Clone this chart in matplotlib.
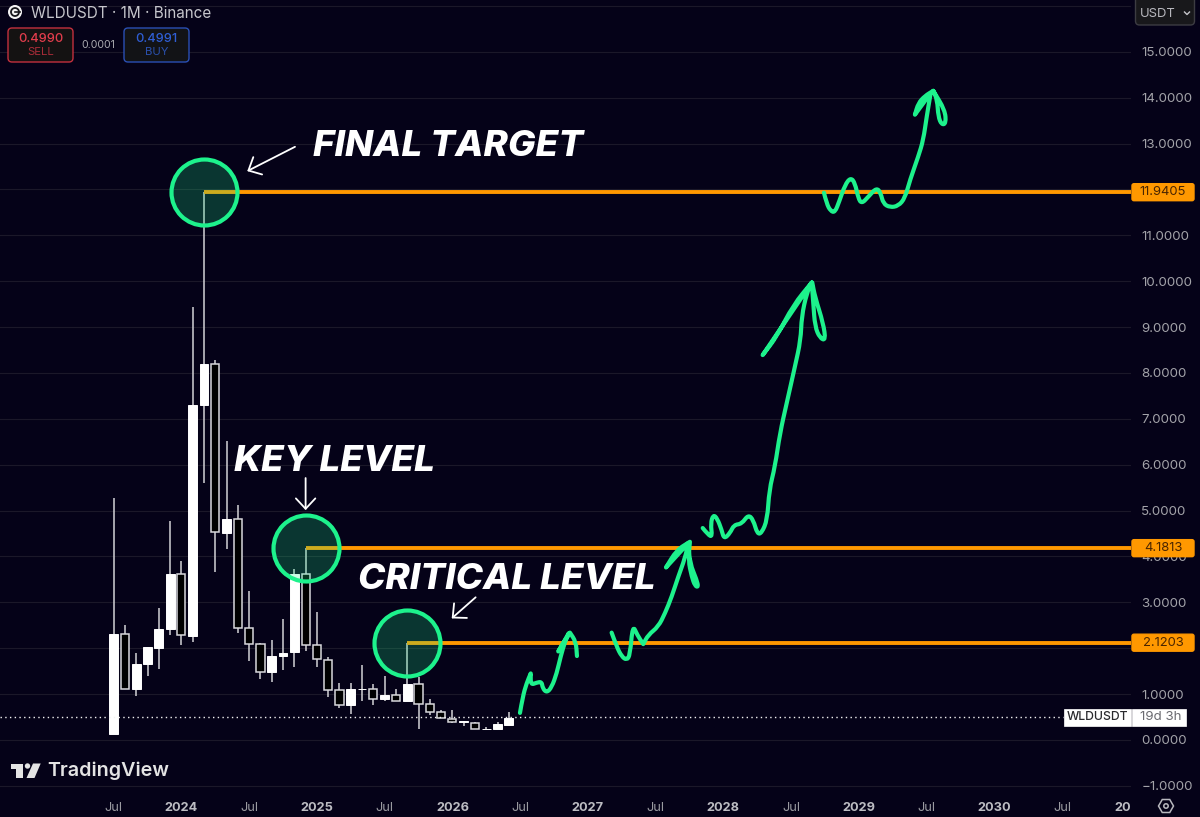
import numpy as np
import matplotlib
matplotlib.use('Agg')
import matplotlib.pyplot as plt
from matplotlib.patches import Rectangle, FancyBboxPatch, Circle, Polygon, RegularPolygon, PathPatch
from matplotlib.path import Path

plt.rcParams['font.family'] = ['Inter', 'DejaVu Sans']

# --
# data: monthly candles, first one is Jul 2023

opens = [0.13, 2.30, 1.11, 1.65, 2.01, 2.41, 3.61, 2.27, 7.30, 8.20, 4.51, 4.82,
         2.45, 2.09, 1.48, 1.84, 1.91, 3.61, 2.07, 1.74, 1.08, 0.76, 1.11, 1.12,
         0.89, 0.98, 0.86, 1.22, 0.78, 0.60, 0.45, 0.39, 0.38, 0.23, 0.23, 0.33]
highs = [5.27, 2.51, 1.89, 2.02, 2.87, 4.77, 3.91, 9.43, 11.94, 8.28, 6.52, 5.12,
         3.25, 2.12, 2.18, 2.64, 3.72, 4.18, 2.79, 1.80, 1.24, 1.24, 1.64, 1.22,
         1.40, 1.11, 2.12, 1.38, 0.89, 0.65, 0.65, 0.41, 0.40, 0.28, 0.39, 0.61]
lows = [0.13, 1.11, 0.96, 1.40, 1.54, 2.29, 2.06, 2.14, 5.60, 3.67, 4.16, 2.33,
        1.73, 1.33, 1.27, 1.53, 1.58, 1.93, 1.60, 0.94, 0.69, 0.57, 0.84, 0.76,
        0.84, 0.86, 0.86, 0.25, 0.55, 0.47, 0.36, 0.31, 0.25, 0.23, 0.23, 0.33]
closes = [2.30, 1.11, 1.66, 2.02, 2.41, 3.61, 2.28, 7.31, 8.20, 4.53, 4.82, 2.45,
          2.09, 1.48, 1.84, 1.90, 3.61, 2.08, 1.76, 1.10, 0.76, 1.11, 1.12, 0.89,
          0.98, 0.86, 1.22, 0.79, 0.60, 0.47, 0.39, 0.41, 0.25, 0.25, 0.34, 0.48]

levels = [11.9405, 4.1813, 2.1203]
level_start = [8, 17, 26]
last_price = 0.4990

tick_months = list(range(0, 91, 6))
tick_names = ['Jul', '2024', 'Jul', '2025', 'Jul', '2026', 'Jul', '2027', 'Jul', '2028',
              'Jul', '2029', 'Jul', '2030', 'Jul', '2031']
price_ticks = list(range(-1, 16))
hidden_price_ticks = [2, 12]  # sit behind the orange level tags

# hand drawn green strokes (month, price), read at 11.33 px per month
# a repeated point keeps a sharp corner when the stroke gets smoothed
stroke_a_x = [35.86, 36.10, 36.45, 36.81, 36.81, 36.81, 37.33, 37.78, 37.86, 38.22, 38.66, 39.10, 39.45,
              39.83, 40.18, 40.18, 39.24, 39.24, 40.27, 40.27, 40.80, 40.89]
stroke_a_y = [0.59, 0.94, 1.24, 1.45, 1.45, 1.20, 1.25, 1.27, 1.13, 1.03, 1.15, 1.45, 1.82,
              2.14, 2.33, 2.33, 1.93, 1.93, 2.34, 2.34, 2.14, 1.83]
stroke_b_x = [43.95, 44.40, 44.84, 45.28, 45.57, 45.81, 46.21, 46.74, 46.74, 47.18, 48.07, 48.66, 49.25,
              49.83, 50.42, 50.72, 50.72, 48.75, 48.75, 49.69, 50.86, 50.86, 50.72, 51.02, 51.31, 51.60, 51.46,
              50.86, 50.72]
stroke_b_y = [2.34, 2.03, 1.82, 1.74, 1.85, 2.51, 2.29, 2.09, 2.09, 2.29, 2.47, 2.76, 3.12,
              3.56, 3.96, 4.29, 4.29, 3.76, 3.76, 4.14, 4.32, 4.32, 3.92, 3.56, 3.36, 3.33, 3.49,
              3.85, 4.29]
stroke_c_x = [51.99, 52.48, 52.83, 52.69, 52.92, 53.27, 53.66, 53.87, 54.40, 54.75, 55.43, 56.01,
              56.45, 56.81, 57.19, 57.69, 57.86, 58.37, 58.81, 59.40, 60.13, 60.64, 60.72, 61.17,
              61.61, 61.61, 57.28, 57.28, 58.52, 59.98, 61.61, 61.61, 61.75, 61.90, 62.34, 62.84, 62.63,
              61.90, 61.66]
stroke_c_y = [4.62, 4.47, 4.43, 4.72, 4.91, 4.83, 4.58, 4.38, 4.51, 4.69, 4.71, 4.91,
              4.80, 4.49, 4.51, 4.80, 5.45, 5.96, 6.69, 7.34, 8.14, 8.72, 9.23, 9.74,
              9.97, 9.97, 8.39, 8.39, 8.79, 9.48, 9.97, 9.97, 9.52, 9.01, 8.76, 8.71, 9.08,
              9.66, 9.97]
stroke_d_x = [62.69, 62.93, 63.28, 63.66, 64.04, 64.55, 65.05, 65.43, 65.72, 66.02, 66.60, 67.34,
              67.70, 67.93, 68.52, 69.25, 69.84, 70.29, 71.02, 71.46, 71.76, 72.11, 72.11, 70.72, 70.72, 71.02,
              71.61, 72.34, 72.34, 72.69, 72.78, 73.08, 73.46, 73.37, 72.34]
stroke_d_y = [11.93, 11.69, 11.53, 11.50, 11.74, 12.10, 12.26, 12.14, 11.81, 11.69, 11.84, 12.04,
              11.92, 11.69, 11.61, 11.64, 11.81, 12.21, 12.72, 13.08, 13.59, 14.10, 14.10, 13.63, 13.63, 13.88,
              14.04, 14.15, 14.15, 13.95, 13.59, 13.41, 13.44, 13.73, 14.15]

BG = '#050218'
GRID = '#1b1829'
GREEN = '#1df28c'
ORANGE = '#ff9800'
WICK = '#d2d2d6'


# --
# figure and price axes

fig = plt.figure(figsize=(12, 8.17), dpi=100, facecolor=BG)
ax = fig.add_axes([0, (817 - 792) / 817, 1131 / 1200, 792 / 817], facecolor=BG)
ax.set_xlim(-10.07, 90.11)
ax.set_ylim(-1.134, 16.13)
for s in ax.spines.values():
    s.set_visible(False)

ax.yaxis.tick_right()
ax.set_yticks(price_ticks)
ax.set_yticklabels(['' if p in hidden_price_ticks else f'{p:.4f}'.replace('-', '\u2212') for p in price_ticks],
                   color='#a3a3a9', fontsize=9.6)
ax.tick_params(axis='y', length=0, pad=7.5)
ax.set_xticks(tick_months)
ax.set_xticklabels(tick_names, color='#9a9aa0', fontsize=9.2)
ax.tick_params(axis='x', length=0, pad=7)
for lab in ax.get_xticklabels():
    if lab.get_text() != 'Jul':
        lab.set_fontweight('bold')
        lab.set_color('#bcbcc2')
ax.grid(axis='y', color=GRID, lw=0.8, zorder=0)
ax.axhline(16, color=GRID, lw=0.8, zorder=0)


# --
# candles

idx = np.arange(len(opens))
opens, closes = np.array(opens), np.array(closes)
up = closes >= opens
ax.vlines(idx, lows, highs, color=WICK, lw=1.1, zorder=2)
ax.bar(idx[up], (closes - opens)[up], bottom=opens[up], width=0.78,
       color='white', edgecolor='white', lw=0.7, zorder=3)
ax.bar(idx[~up], (opens - closes)[~up], bottom=closes[~up], width=0.72,
       color='black', edgecolor='#d8d8dc', lw=1.1, zorder=3)
ax.axhline(last_price, xmax=1063 / 1131, color='#f2f2f2', lw=1.0, ls=(0, (1, 2.4)), zorder=4)


# --
# levels, circles, arrows, labels

for lev, start in zip(levels, level_start):
    ax.hlines(lev, start, 90.11, color=ORANGE, lw=2.8, zorder=5)
ax.scatter(level_start, levels, s=2257, facecolor=(0.11, 0.95, 0.55, 0.22), edgecolor=GREEN,
           lw=3.0, zorder=6)


def smooth_stroke(xs, ys):
    # quadratic curves through the midpoints, the pen wobble is not a polyline
    pts = np.column_stack([np.array(xs) * 11.33 / 11.29, ys])
    verts, codes = [pts[0]], [Path.MOVETO]
    for i in range(1, len(pts) - 1):
        verts += [pts[i], (pts[i] + pts[i + 1]) / 2]
        codes += [Path.CURVE3, Path.CURVE3]
    verts.append(pts[-1])
    codes.append(Path.LINETO)
    return Path(verts, codes)


for xs, ys in [(stroke_a_x, stroke_a_y), (stroke_b_x, stroke_b_y),
               (stroke_c_x, stroke_c_y), (stroke_d_x, stroke_d_y)]:
    ax.add_patch(PathPatch(smooth_stroke(xs, ys), fc='none', ec=GREEN, lw=3.0, capstyle='round',
                           joinstyle='round', zorder=7))

arrows = [((16.06, 12.93), (11.83, 12.40)), ((17.0, 5.71), (17.0, 5.01)), ((32.06, 3.11), (29.94, 2.65))]
for start, tip in arrows:
    ax.annotate('', xy=tip, xytext=start, zorder=7,
                arrowprops=dict(arrowstyle='->,head_length=0.75,head_width=0.7', color='white',
                                lw=1.3, shrinkA=0, shrinkB=0))

labels = [('FINAL TARGET', 17.65, 12.94), ('KEY LEVEL', 10.66, 6.06), ('CRITICAL LEVEL', 21.64, 3.50)]
for txt, x, y in labels:
    ax.text(x, y, txt, color='white', fontsize=26.5, fontweight=800, fontstyle='italic',
            va='center', ha='left', zorder=8)


# --
# chart furniture, overlay in pixels

ui = fig.add_axes([0, 0, 1, 1], facecolor='none', zorder=5)
ui.set_xlim(0, 1200)
ui.set_ylim(817, 0)
ui.axis('off')


def price_y(v):
    return 817 - ax.transData.transform((0, v))[1]


def round_box(x0, y0, x1, y1, face, edge, rad=4):
    ui.add_patch(FancyBboxPatch((x0 + rad, y0 + rad), x1 - x0 - 2 * rad, y1 - y0 - 2 * rad,
                                boxstyle=f'round,pad={rad},rounding_size={rad}', fc=face, ec=edge, lw=1.0))


ui.add_patch(Rectangle((1131, 795), 69, 22, fc=BG, ec='none'))

for lev in levels:
    y = price_y(lev)
    round_box(1132, y - 8.5, 1194, y + 8.5, ORANGE, ORANGE, rad=2)
    ui.text(1163, y, f'{lev:.4f}', color='#4a2500', fontsize=9.4, ha='center', va='center')

y = price_y(last_price)
ui.add_patch(Rectangle((1063.5, y - 8.5), 67, 17, fc='white', ec='white', lw=0.5))
ui.add_patch(Rectangle((1132, y - 8.5), 54, 17, fc='white', ec='white', lw=0.5))
ui.text(1097, y, 'WLDUSDT', color='#2a2a2e', fontsize=8.8, fontweight='medium', ha='center', va='center')
ui.text(1161, y, '19d 3h', color='#6a6a70', fontsize=9.6, ha='center', va='center')

# header
ui.add_patch(Circle((15, 12), 7, fc='#f4f4f4', ec='none'))
ui.add_patch(Circle((15, 12), 4, fc='none', ec='#17171c', lw=1.3))
ui.plot([15, 19.5], [12, 12], color='#17171c', lw=1.2)
ui.text(31, 13, 'WLDUSDT \u00b7 1M \u00b7 Binance', color='#c6c6cc', fontsize=11, ha='left', va='center')

round_box(8, 28, 73, 62, '#141212', '#c2303e')
ui.text(40.5, 38.5, '0.4990', color='#e23d4c', fontsize=9.2, fontweight='medium', ha='center', va='center')
ui.text(40.5, 52, 'SELL', color='#a82c38', fontsize=8.2, ha='center', va='center')
ui.text(98, 45, '0.0001', color='#ababb0', fontsize=7.6, ha='center', va='center')
round_box(124, 28, 189, 62, '#121316', '#2a4fb4')
ui.text(156.5, 38.5, '0.4991', color='#2f5ed4', fontsize=9.2, fontweight='medium', ha='center', va='center')
ui.text(156.5, 52, 'BUY', color='#2a50ac', fontsize=8.2, ha='center', va='center')

# currency button
round_box(1135.5, -6, 1194.5, 25, '#18181b', '#3c3c42')
ui.text(1139.5, 13.5, 'USDT', color='#b8b8be', fontsize=9.4, ha='left', va='center')
ui.plot([1184.5, 1187, 1189.5], [12, 14.5, 12], color='#c4c4ca', lw=1.0)

# tradingview mark
ui.add_patch(Polygon([(11, 763.5), (22.5, 763.5), (22.5, 778), (16, 778), (16, 768.5), (11, 768.5)],
                     fc='#e4e4e4', ec='none'))
ui.add_patch(Circle((27.5, 766), 2.7, fc='#e4e4e4', ec='none'))
ui.add_patch(Polygon([(33, 763.5), (40.7, 763.5), (34.5, 778), (26.5, 778)], fc='#e4e4e4', ec='none'))
ui.text(47.5, 771, 'TradingView', color='#e4e4e4', fontsize=14.2, fontweight='semibold', ha='left', va='center')

# settings hexagon
ui.add_patch(RegularPolygon((1166, 806), 6, radius=7.5, orientation=np.pi / 6, fc='none', ec='#b8b8be', lw=1.1))
ui.add_patch(Circle((1166, 806), 2.2, fc='none', ec='#b8b8be', lw=1.1))

plt.savefig('out.png', dpi=100, facecolor=BG)
